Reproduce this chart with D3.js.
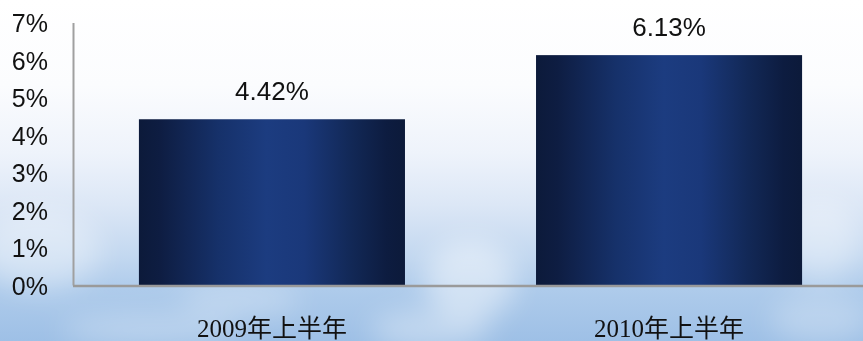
<!DOCTYPE html>
<html>
<head>
<meta charset="utf-8">
<script src="https://cdn.jsdelivr.net/npm/d3@7"></script>
<style>
html,body{margin:0;padding:0;overflow:hidden;background:#fff;}
svg{display:block;}
</style>
</head>
<body>
<svg id="chart" width="863" height="341"></svg>
<script>
const categories = ["2009年上半年", "2010年上半年"];
const values = [0.0442, 0.0613];
const valueLabels = ["4.42%", "6.13%"];
const yTicks = [0, 0.01, 0.02, 0.03, 0.04, 0.05, 0.06, 0.07];
const yTickLabels = ["0%", "1%", "2%", "3%", "4%", "5%", "6%", "7%"];

const W = 863, H = 341;
const svg = d3.select("#chart");
const defs = svg.append("defs");

// sky background
const sky = defs.append("linearGradient").attr("id","sky").attr("x1",0).attr("y1",0).attr("x2",0).attr("y2",1);
[[0,"#ffffff"],[0.25,"#fbfcfe"],[0.45,"#eef3fb"],[0.6,"#dce7f6"],[0.75,"#c3d8f0"],[0.85,"#aecbeb"],[1,"#9ec0e6"]]
  .forEach(([o,c])=>sky.append("stop").attr("offset",o).attr("stop-color",c));
svg.append("rect").attr("width",W).attr("height",H).attr("fill","url(#sky)");

// soft clouds
const blur = defs.append("filter").attr("id","blur").attr("x","-50%").attr("y","-50%").attr("width","200%").attr("height","200%");
blur.append("feGaussianBlur").attr("stdDeviation",14);
const clouds = svg.append("g").attr("filter","url(#blur)");
const cloudData = [[470,280,45,40,0.45],[430,330,60,20,0.35],[150,330,90,15,0.3],[40,250,60,40,0.35],[820,320,50,25,0.25],[820,240,40,40,0.35],[240,300,60,18,0.25]];
cloudData.forEach(([cx,cy,rx,ry,op])=>clouds.append("ellipse").attr("cx",cx).attr("cy",cy).attr("rx",rx).attr("ry",ry).attr("fill","#ffffff").attr("opacity",op));

// bar gradient
const bg = defs.append("linearGradient").attr("id","bar").attr("x1",0).attr("y1",0).attr("x2",1).attr("y2",0);
[[0,"#0c1a3a"],[0.08,"#0e1d42"],[0.3,"#16316a"],[0.48,"#1c3c80"],[0.62,"#1a387a"],[0.8,"#122856"],[0.93,"#0d1c40"],[1,"#0c1a3a"]]
  .forEach(([o,c])=>bg.append("stop").attr("offset",o).attr("stop-color",c));

const x = d3.scaleBand().domain(categories).range([73, 868]).paddingInner(0.33).paddingOuter(0.166);
const y = d3.scaleLinear().domain([0, 0.07]).range([285, 22.5]);

// bars
svg.append("g").selectAll("rect").data(values).join("rect")
  .attr("x",(d,i)=>x(categories[i]))
  .attr("y",d=>y(d))
  .attr("width",x.bandwidth())
  .attr("height",d=>y(0)-y(d))
  .attr("fill","url(#bar)");

// axes
const yAxis = d3.axisLeft(y).tickValues(yTicks).tickFormat((d,i)=>yTickLabels[i]).tickSize(0).tickPadding(25);
const gy = svg.append("g").attr("transform","translate(73,0)").call(yAxis);
gy.select(".domain").attr("stroke","#a0a0a0").attr("stroke-width",2);
gy.selectAll("text").attr("font-family","Arial, 'Liberation Sans', sans-serif").attr("font-size",25).attr("fill","#111").attr("dy","0.36em");

const xAxis = d3.axisBottom(x).tickSize(0).tickPadding(33);
const gx = svg.append("g").attr("transform","translate(0,286)").call(xAxis);
gx.select(".domain").attr("d","M73,0H863").attr("stroke","#9a9a9a").attr("stroke-width",2.5);
gx.selectAll("text").attr("font-family","'Liberation Serif','DejaVu Serif','Noto Sans CJK SC',serif").attr("font-size",25).attr("fill","#111").attr("dy","0.7em");

// value labels
svg.append("g").selectAll("text").data(values).join("text")
  .attr("x",(d,i)=>x(categories[i])+x.bandwidth()/2)
  .attr("y",d=>y(d)-19)
  .attr("text-anchor","middle")
  .attr("font-family","Arial, 'Liberation Sans', sans-serif")
  .attr("font-size",26)
  .attr("fill","#111")
  .text((d,i)=>valueLabels[i]);
</script>
</body>
</html>
